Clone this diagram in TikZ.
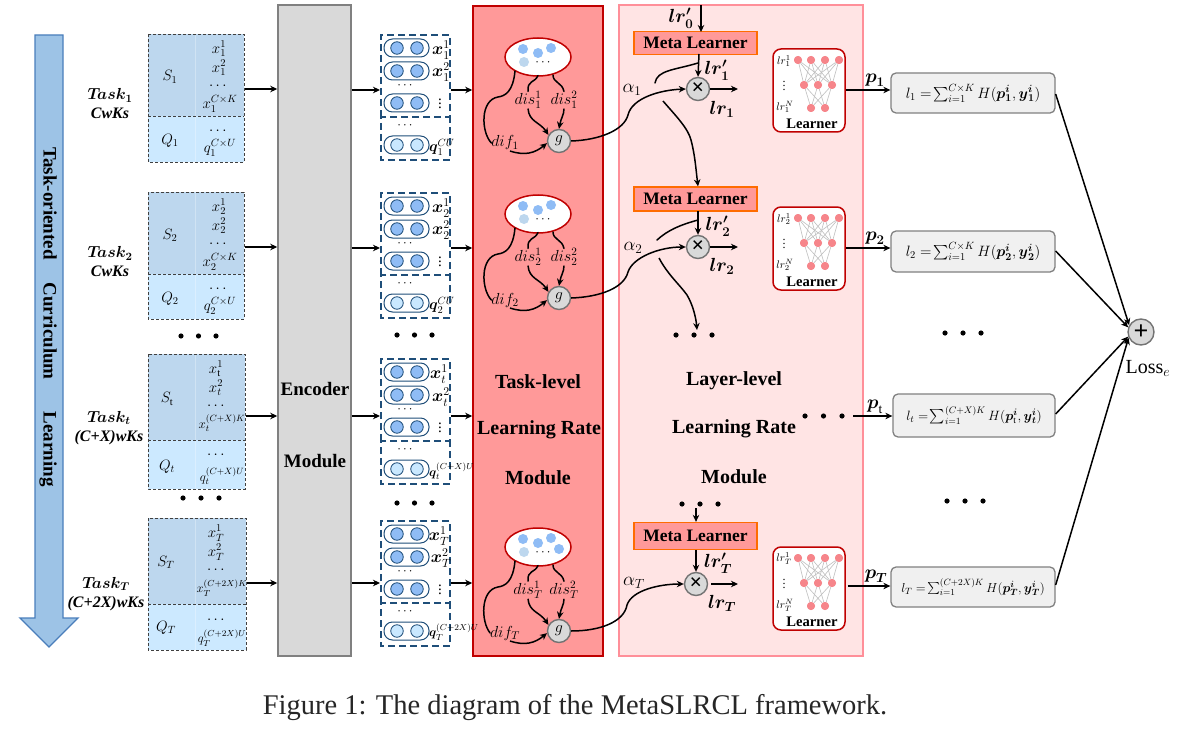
\RequirePackage{fix-cm}
\documentclass[tikz,border=0pt]{standalone}
\usepackage{amsmath}
\usepackage{fontspec}
\setmainfont{Liberation Serif}
\usetikzlibrary{arrows.meta,shapes.geometric,calc}
\newcommand\fs[1]{\fontsize{#1}{#1}\selectfont}
\newcommand\bs[1]{\boldsymbol{#1}}
\definecolor{sfill}{HTML}{BDD7EE}
\definecolor{qfill}{HTML}{CCE9FF}
\definecolor{navy}{HTML}{1F4E79}
\definecolor{dotb}{HTML}{8FBCF5}
\definecolor{dotq}{HTML}{C9E8FF}
\definecolor{redb}{HTML}{C00000}
\definecolor{redf}{HTML}{FF9999}
\definecolor{pinkf}{HTML}{FFE4E4}
\definecolor{pinkb}{HTML}{FF8F99}
\definecolor{nn}{HTML}{F6858A}
\definecolor{arrowf}{HTML}{9DC3E6}
\definecolor{arrowb}{HTML}{4A7EBB}
\tikzset{
 arr/.style={-{Stealth[length=7pt,width=6.5pt]},line width=1.5pt,black},
 crv/.style={line width=1.5pt,black,line cap=round},
 lbl/.style={inner sep=0pt,outer sep=0pt,align=center},
 bigt/.style={lbl,font={\fs{20}\bfseries}},
 enct/.style={lbl,font={\fs{19}\bfseries}},
 dsq/.style={draw=black!75,line width=.8pt,dash pattern=on 3pt off 2pt},
 pill/.style={draw=navy,line width=1pt,rounded corners=8.5pt,fill=white},
 fb/.style={draw=navy,line width=1.5pt,dash pattern=on 7pt off 4pt},
 cir/.style={circle,draw=navy,line width=.8pt,minimum size=12.5pt,inner sep=0pt},
 bd/.style={circle,fill=black,minimum size=5.2pt,inner sep=0pt},
 grayc/.style={circle,draw=black!55,line width=1.4pt,fill=black!15,inner sep=0pt,minimum size=23pt},
 meta/.style={draw=orange!85!red,line width=1.3pt,fill=redf,minimum width=123pt,inner sep=0pt,font={\fs{17.5}\bfseries}},
 lbox/.style={draw=black!50,line width=1.3pt,fill=black!6,rounded corners=5pt,inner sep=0pt,font=\fs{15}},
 nnd/.style={circle,fill=nn,minimum size=8pt,inner sep=0pt},
 sm/.style={lbl,font=\fs{15}},
 ss/.style={lbl,font=\fs{13}},
 bx/.style={lbl,font=\fs{17}},
 bq/.style={lbl,anchor=west,font=\fs{15}},
 bqw/.style={lbl,anchor=west,font=\fs{12.5}},
 tsk/.style={lbl,font={\fs{16}\bfseries\itshape}},
 lrt/.style={lbl,font=\fs{19}},
 alp/.style={lbl,font=\fs{19}},
 opm/.style={font={\fs{22}\bfseries}},
}
\newcommand\threedots[4]{%
 \node[bd] (#1a) at (#2,#3) {};
 \node[bd] (#1b) at (#2+#4,#3) {};
 \node[bd] (#1c) at (#2+2*#4,#3) {};
}
\newcommand\taskblk[5]{%
 \path[fill=sfill] (148,#3) rectangle (#2,#4);
 \path[fill=qfill] (148,#4) rectangle (#2,#5);
 \draw[white,opacity=.3,line width=.5pt] (195,#3) -- (195,#5);
 \draw[dsq] (148,#3) rectangle (#2,#5);
 \draw[dsq] (148,#4) -- (#2,#4);
 \coordinate (#1) at (#2,{(#3+#4)/2});
}
\newcommand\pillpair[3]{%
 \node[pill,minimum width=45pt,minimum height=18pt,inner sep=0pt] (#1) at (406.5,#2) {};
 \node[cir,fill=#3] (#1a) at (397,#2) {};
 \node[cir,fill=#3] (#1b) at (417,#2) {};
}
\newcommand\featcol[2]{%
 \begin{scope}[shift={(0,#2)}]
 \draw[fb] (381,117) -- (381,35) -- (450,35) -- (450,117) -- (381,117) -- (381,160) -- (450,160) -- (450,117);
 \pillpair{#1p}{48}{dotb}
 \pillpair{#1r}{71}{dotb}
 \pillpair{#1s}{103}{dotb}
 \pillpair{#1q}{145}{dotq}
 \node[lbl,font=\fs{13}] (#1d) at (406,86) {$\cdots$};
 \node[lbl,font=\fs{13}] (#1e) at (406,126) {$\cdots$};
 \node[lbl,font=\fs{15}] (#1v) at (440,101) {$\vdots$};
 \coordinate (#1in) at (380,90);
 \coordinate (#1out) at (451,90);
 \end{scope}
}
\newcommand\tasklr[3]{%
 \begin{scope}[shift={(0,#2)}]
 \node[ellipse,draw=redb,line width=1.5pt,fill=white,minimum width=66pt,minimum height=38pt,inner sep=0pt] (#1ell) at (538,57) {};
 \fill[dotb] (523,49) circle (5) (538,53) circle (5) (551,48) circle (5);
 \fill[sfill] (524,62) circle (5);
 \node[lbl,font=\fs{13}] (#1ed) at (544,63) {$\cdots$};
 \node[grayc,minimum size=23pt] (#1g) at (559,141) {\fs{16}$g$};
 \node[sm,font=\fs{16}] (#1dis) at (528,100) {$dis_{#3}^{1}$};
 \node[sm,font=\fs{16}] (#1dit) at (564,100) {$dis_{#3}^{2}$};
 \node[sm,font=\fs{16}] (#1dif) at (505,143) {$dif_{#3}$};
 \draw[crv] (515,71) .. controls (513,92) and (505,96) .. (498,97) .. controls (480,100) and (481,132) .. (#1dif.west);
 \draw[crv] (538,75.5) .. controls (535,83) and (527,80) .. (#1dis.north);
 \draw[crv] (553,75) .. controls (553,83) and (562,82) .. (#1dit.north);
 \draw[arr] (#1dis.south) .. controls (529,122) and (540,122) .. (#1g.150);
 \draw[arr] (#1dit.south) .. controls (564,115) and (561,118) .. (#1g.north);
 \draw[arr] (510,151) .. controls (525,156) and (535,153) .. (#1g.190);
 \end{scope}
}
\newcommand\learner[3]{%
 \begin{scope}[shift={(0,#2)}]
 \node[draw=redb,line width=1.5pt,fill=white,rounded corners=8pt,minimum width=72pt,minimum height=83pt,inner sep=0pt] (#1) at (809,90.5) {};
 \foreach \n/\x/\y in {a/798/60,b/811/60,c/825/60,d/839/60,e/804/85,f/818/85,g/832/85,h/811/108,i/825/108}{\node[nnd] (#1\n) at (\x,\y) {};}
 \foreach \p in {a,b,c,d}{\foreach \q in {e,f,g}{\draw[black!25,line width=.6pt] (#1\p) -- (#1\q);}}
 \foreach \p in {e,f,g}{\foreach \q in {h,i}{\draw[black!25,line width=.6pt] (#1\p) -- (#1\q);}}
 \foreach \n in {a,b,c,d,e,f,g,h,i}{\fill[nn] (#1\n) circle (4);}
 \node[lbl,font=\fs{11}] (#1t) at (784,61) {$lr_{#3}^{1}$};
 \node[lbl,font=\fs{12}] (#1v) at (784,83) {$\vdots$};
 \node[lbl,font=\fs{11}] (#1m) at (785,107) {$lr_{#3}^{N}$};
 \node[lbl,font={\fs{14.6}\bfseries}] (#1n) at (812,124) {Learner};
 \end{scope}
}
\begin{document}
\begin{tikzpicture}[x=1pt,y=-1pt]
\useasboundingbox (0,0) rectangle (1197,741);
\draw[draw=arrowb,line width=1.4pt,fill=arrowf] (35,35) -- (63,35) -- (63,618) -- (78,618) -- (49,647) -- (20,618) -- (35,618) -- cycle;
\node[enct,rotate=-90] (cur) at (48,317) {Task-oriented\hspace{23pt}Curriculum\hspace{32pt}Learning};
\node[tsk] (t1) at (110,104) {$\bs{T\!ask_1}$\\[3pt]CwKs};
\node[tsk] (t2) at (110,262) {$\bs{T\!ask_2}$\\[3pt]CwKs};
\node[tsk] (t3) at (109,428) {$\bs{T\!ask_t}$\\[3pt](C+X)wKs};
\node[tsk] (t4) at (106,594) {$\bs{T\!ask_T}$\\[3pt](C+2X)wKs};
\taskblk{b1}{244}{34}{116}{162}
\taskblk{b2}{244}{192}{274}{319}
\taskblk{b3}{245}{354}{440}{489}
\taskblk{b4}{246}{518}{604}{650}
\node[sm] (s1) at (170,77) {$S_1$}; \node[sm] (q1) at (170,141) {$Q_1$};
\node[sm] at (219,49) {$x_1^1$}; \node[sm] at (219,68) {$x_1^2$}; \node[sm] at (219,86) {$\cdots$}; \node[sm] at (220,104) {$x_1^{C\times K}$};
\node[sm] at (219,131) {$\cdots$}; \node[sm] at (220,148) {$q_1^{C\times U}$};
\node[sm] (s2) at (170,235) {$S_2$}; \node[sm] (q2) at (170,299) {$Q_2$};
\node[sm] at (219,207) {$x_2^1$}; \node[sm] at (219,226) {$x_2^2$}; \node[sm] at (219,244) {$\cdots$}; \node[sm] at (220,262) {$x_2^{C\times K}$};
\node[sm] at (219,289) {$\cdots$}; \node[sm] at (220,306) {$q_2^{C\times U}$};
\node[sm] (s3) at (167,399) {$S_{\mathrm{t}}$}; \node[sm] (q3) at (167,467) {$Q_t$};
\node[sm] at (216,369) {$x_{\mathrm{t}}^1$}; \node[sm] at (216,388) {$x_t^2$}; \node[sm] at (217,406) {$\cdots$}; \node[ss] at (222,423) {$x_t^{(C+X)K}$};
\node[sm] at (217,455) {$\cdots$}; \node[ss] at (222,476) {$q_t^{(C+X)U}$};
\node[sm] (s4) at (166,562) {$S_T$}; \node[sm] (q4) at (166,628) {$Q_T$};
\node[sm] at (216,533) {$x_T^1$}; \node[sm] at (216,552) {$x_T^2$}; \node[sm] at (217,570) {$\cdots$}; \node[ss,font=\fs{12.5}] at (222,588) {$x_T^{(C+2X)K}$};
\node[sm] at (217,620) {$\cdots$}; \node[ss,font=\fs{12.5}] at (222,638) {$q_T^{(C+2X)U}$};
\threedots{da}{181}{336}{17.5}
\threedots{db}{183}{498}{18}
\node[draw=black!50,line width=1.5pt,fill=black!15,minimum width=73pt,minimum height=651pt,inner sep=0pt] (enc) at (314.5,330.5) {};
\node[enct] (enc1) at (315,389) {Encoder};
\node[enct] (enc2) at (315,461) {Module};
\node[draw=redb,line width=1.6pt,fill=redf,minimum width=130pt,minimum height=650pt,inner sep=0pt] (tl) at (538,331) {};
\node[draw=pinkb,line width=1.6pt,fill=pinkf,minimum width=244pt,minimum height=651pt,inner sep=0pt] (ll) at (741,330.5) {};
\node[bigt] (tl1) at (538,382) {Task-level};
\node[bigt] (tl2) at (539,430) {Learning Rate};
\node[bigt] (tl3) at (538,478) {Module};
\node[bigt] (ll1) at (734,381) {Layer-level};
\node[bigt] (ll2) at (734,429) {Learning Rate};
\node[bigt] (ll3) at (734,477) {Module};
\featcol{f}{0}
\featcol{g}{158}
\featcol{h}{324}
\featcol{k}{486}
\node[bx] at (441,50) {$\bs{x}_1^1$}; \node[bx] at (441,72) {$\bs{x}_1^2$}; \node[bq] at (429,147) {$\bs{q}_1^{CU}$};
\node[bx] at (441,208) {$\bs{x}_2^1$}; \node[bx] at (441,230) {$\bs{x}_2^2$}; \node[bq] at (429,305) {$\bs{q}_2^{CU}$};
\node[bx] at (439,374) {$\bs{x}_t^1$}; \node[bx] at (441,397) {$\bs{x}_t^2$}; \node[bqw] at (429,471) {$\bs{q}_t^{(C+X)U}$};
\node[bx] at (439,536) {$\bs{x}_T^1$}; \node[bx] at (441,558) {$\bs{x}_T^2$}; \node[bqw] at (429,632) {$\bs{q}_T^{(C+2X)U}$};
\threedots{dc}{397}{335}{17.5}
\threedots{dd}{397}{503}{17.5}
\tasklr{u}{0}{1}
\tasklr{v}{157}{2}
\tasklr{w}{490}{T}
\fill[dotb] (559,549) circle (5);
\draw[arr] (245,89) -- (enc.west |- 0,89);
\draw[arr] (245,247) -- (enc.west |- 0,247);
\draw[arr] (246,416) -- (enc.west |- 0,416);
\draw[arr] (247,583) -- (enc.west |- 0,583);
\foreach \f/\y in {f/90,g/248,h/416,k/583}{
 \draw[arr] (enc.east |- 0,\y) -- (\f in |- 0,\y);
 \draw[arr] (\f out |- 0,\y) -- (tl.west |- 0,\y);
}
\node[meta,minimum height=23pt] (m1) at (695.5,43) {Meta Learner};
\node[meta,minimum height=24pt] (m2) at (695.5,199) {Meta Learner};
\node[meta,minimum height=27pt] (m4) at (695.5,536) {Meta Learner};
\node[grayc,opm] (x1) at (698,89) {×};
\node[grayc,opm] (x2) at (698,247) {×};
\node[grayc,opm] (x4) at (696,584) {×};
\coordinate (lr0) at (701,5);
\node[lrt] (lr0t) at (681,18) {$\bs{lr'_0}$};
\draw[arr] (lr0) -- (701,32);
\draw[arr] (699,54) -- (x1.north);
\draw[arr] (698,211) -- (x2.north);
\draw[arr] (696,550) -- (x4.north);
\threedots{de}{682}{504}{18}
\draw[arr] (696,508) -- (m4.north -| 696,0);
\threedots{df}{676}{335}{18}
\node[lrt] (l1p) at (717,70) {$\bs{lr'_1}$};
\node[lrt] (l2p) at (718,226) {$\bs{lr'_2}$};
\node[lrt] (l4p) at (718,563) {$\bs{lr'_T}$};
\node[lrt] (l1) at (722,109) {$\bs{lr_1}$};
\node[lrt] (l2) at (722,266) {$\bs{lr_2}$};
\node[lrt] (l4) at (722,603) {$\bs{lr_T}$};
\coordinate (o1) at (738,89); \coordinate (o2) at (738,247); \coordinate (o4) at (738,584);
\draw[arr] (x1.east) -- (o1);
\draw[arr] (x2.east) -- (o2);
\draw[arr] (x4.east) ++(3,0) -- (o4);
\node[alp] (a1) at (632,90) {$\alpha_1$};
\node[alp] (a2) at (633,248) {$\alpha_2$};
\node[alp] (a4) at (634,583) {$\alpha_T$};
\draw[arr] (ug.east) .. controls (600,140) and (624,130) .. (628,115) .. controls (632,98) and (660,90) .. (x1.west);
\draw[arr] (vg.east) .. controls (600,297) and (624,288) .. (628,272) .. controls (633,257) and (660,247) .. (x2.west);
\draw[arr] (wg.east) .. controls (600,631) and (624,622) .. (627,605) .. controls (632,590) and (660,584) .. (x4.west);
\draw[crv] (655,83) .. controls (657,70) and (675,70) .. (698,63);
\draw[arr] (663,101) .. controls (675,115) and (688,128) .. (691,140) .. controls (695,155) and (696,170) .. (m2.north -| 698,0);
\draw[crv] (657,240) .. controls (668,230) and (680,225) .. (698,220);
\draw[arr] (659,258) .. controls (668,275) and (680,285) .. (687,295) .. controls (693,305) and (696,318) .. (697,330);
\learner{n1}{0}{1}
\learner{n2}{158}{2}
\learner{n4}{498}{T}
\node[lbox,minimum width=164pt,minimum height=40pt] (b1l) at (973,93) {$l_1=\!\sum_{i=1}^{C\times K}H(\bs{p}_{\bs{1}}^{\bs{i}},\bs{y}_{\bs{1}}^{\bs{i}})$};
\node[lbox,minimum width=164pt,minimum height=41pt] (b2l) at (973,251.5) {$l_2=\!\sum_{i=1}^{C\times K}H(\bs{p}_{\bs{2}}^{\bs{i}},\bs{y}_{\bs{2}}^{\bs{i}})$};
\node[lbox,font=\fs{13.5},minimum width=162pt,minimum height=43pt] (b3l) at (974,415.5) {$l_t=\!\sum_{i=1}^{(C+X)K}H(\bs{p}_{\mathrm{t}}^{\bs{i}},\bs{y}_{\bs{t}}^{\bs{i}})$};
\node[lbox,font=\fs{13},minimum width=164pt,minimum height=40pt] (b4l) at (973,587) {$l_T=\!\sum_{i=1}^{(C+2X)K}H(\bs{p}_{\bs{T}}^{\bs{i}},\bs{y}_{\bs{T}}^{\bs{i}})$};
\draw[arr] (n1.east |- 0,90) -- (b1l.west |- 0,90);
\draw[arr] (n2.east |- 0,248) -- (b2l.west |- 0,248);
\draw[arr] (853,416) -- (b3l.west |- 0,416);
\draw[arr] (n4.east |- 0,586) ++(2,0) -- (b4l.west |- 0,586);
\node[lrt] (p1) at (875,80) {$\bs{p}_{\bs{1}}$};
\node[lrt] (p2) at (875,238) {$\bs{p}_{\bs{2}}$};
\node[lrt] (p3) at (875,407) {$\bs{p}_{\mathrm{t}}$};
\node[lrt] (p4) at (876,576) {$\bs{p}_{\bs{T}}$};
\threedots{dg}{805}{416}{18.5}
\threedots{dh}{945}{333}{18}
\threedots{di}{947}{501}{18}
\node[grayc,minimum size=26pt,font={\fs{26}\bfseries}] (plus) at (1141,332) {+};
\node[lbl,font=\fs{20}] (loss) at (1148,368) {$\mathrm{Loss}_e$};
\draw[arr] (b1l.east |- 0,94) -- (plus.150);
\draw[arr] (b2l.east |- 0,251) -- (plus.160);
\draw[arr] (b3l.east |- 0,414) -- (plus.200);
\draw[arr] (b4l.east |- 0,585) -- (plus.205);
\node[lbl,font=\fs{28.5},text=black!85] (cap) at (575,708) {Figure 1: The diagram of the MetaSLRCL framework.};
\end{tikzpicture}
\end{document}
